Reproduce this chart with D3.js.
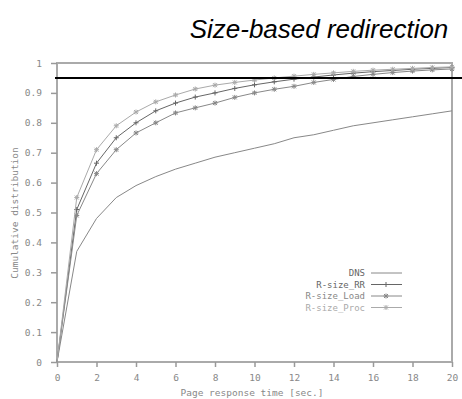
<!DOCTYPE html>
<html>
<head>
<meta charset="utf-8">
<script src="https://d3js.org/d3.v7.min.js"></script>
<style>
  body { margin: 0; background: #fff; }
  svg { display: block; }
  .tick text { font-family: "DejaVu Sans Mono", monospace; font-size: 9.5px; fill: #888; }
</style>
</head>
<body>
<div id="chart"></div>
<script>
// page response time (sec.)
const times = [0,1,2,3,4,5,6,7,8,9,10,11,12,13,14,15,16,17,18,19,20];
const dns     = [0,0.37,0.48,0.55,0.59,0.62,0.645,0.665,0.685,0.70,0.715,0.73,0.75,0.76,0.775,0.79,0.80,0.81,0.82,0.83,0.84];
const sizeRR  = [0,0.51,0.665,0.75,0.80,0.84,0.866,0.886,0.90,0.915,0.927,0.937,0.946,0.953,0.96,0.966,0.971,0.975,0.979,0.982,0.985];
const sizeLoad = [0,0.49,0.63,0.71,0.766,0.80,0.833,0.85,0.866,0.885,0.90,0.912,0.922,0.935,0.945,0.955,0.962,0.968,0.973,0.977,0.98];
const sizeProc = [0,0.55,0.71,0.79,0.836,0.87,0.893,0.913,0.926,0.935,0.943,0.95,0.956,0.962,0.967,0.972,0.976,0.979,0.982,0.985,0.987];
const target = 0.95;
const xTicks = [0,2,4,6,8,10,12,14,16,18,20];
const yTicks = [0,0.1,0.2,0.3,0.4,0.5,0.6,0.7,0.8,0.9,1];

const width = 462, height = 399;
const plotLeft = 57, plotRight = 452, plotTop = 63, plotBottom = 362;

const svg = d3.select("#chart").append("svg")
    .attr("width", width)
    .attr("height", height);

const x = d3.scaleLinear().domain([0, 20]).range([plotLeft, plotRight]);
const y = d3.scaleLinear().domain([0, 1]).range([plotBottom, plotTop]);

// title
svg.append("text")
    .attr("x", 319).attr("y", 38)
    .attr("text-anchor", "middle")
    .attr("font-family", "Liberation Sans, Arial, sans-serif")
    .attr("font-style", "italic")
    .attr("font-size", 26)
    .attr("fill", "#000")
    .text("Size-based redirection");

// frame
svg.append("rect")
    .attr("x", plotLeft).attr("y", plotTop)
    .attr("width", plotRight - plotLeft).attr("height", plotBottom - plotTop)
    .attr("fill", "none")
    .attr("stroke", "#aaa")
    .attr("stroke-width", 2);

// axes
const xAxis = d3.axisBottom(x).tickValues(xTicks).tickSize(5).tickPadding(7).tickFormat(d3.format("d"));
const yAxis = d3.axisLeft(y).tickValues(yTicks).tickSize(6).tickPadding(9).tickFormat(d => d === 0 || d === 1 ? d : d3.format(".1f")(d));

const gx = svg.append("g").attr("transform", "translate(0," + plotBottom + ")").call(xAxis);
const gy = svg.append("g").attr("transform", "translate(" + plotLeft + ",0)").call(yAxis);
[gx, gy].forEach(g => {
    g.select(".domain").remove();
    g.selectAll(".tick line").attr("stroke", "#999").attr("stroke-width", 1.5);
});

// axis titles
svg.append("text")
    .attr("x", 252).attr("y", 396)
    .attr("text-anchor", "middle")
    .attr("font-family", "DejaVu Sans Mono, monospace")
    .attr("font-size", 9.5)
    .attr("fill", "#888")
    .text("Page response time [sec.]");

svg.append("text")
    .attr("transform", "translate(18,213) rotate(-90)")
    .attr("text-anchor", "middle")
    .attr("font-family", "DejaVu Sans Mono, monospace")
    .attr("font-size", 9.5)
    .attr("fill", "#888")
    .text("Cumulative distribution");

// series
const series = [
    { name: "DNS", values: dns, color: "#888", marker: null },
    { name: "R-size_RR", values: sizeRR, color: "#666", marker: "plus" },
    { name: "R-size_Load", values: sizeLoad, color: "#888", marker: "star" },
    { name: "R-size_Proc", values: sizeProc, color: "#aaa", marker: "star" }
];

const line = d3.line()
    .x((d, i) => x(times[i]))
    .y(d => y(d));

function drawMarker(g, cx, cy, type, color) {
    const s = 2.5;
    g.append("line").attr("x1", cx - s).attr("x2", cx + s).attr("y1", cy).attr("y2", cy)
        .attr("stroke", color).attr("stroke-width", 1);
    g.append("line").attr("x1", cx).attr("x2", cx).attr("y1", cy - s).attr("y2", cy + s)
        .attr("stroke", color).attr("stroke-width", 1);
    if (type === "star") {
        g.append("line").attr("x1", cx - 2).attr("x2", cx + 2).attr("y1", cy - 2).attr("y2", cy + 2)
            .attr("stroke", color).attr("stroke-width", 1);
        g.append("line").attr("x1", cx - 2).attr("x2", cx + 2).attr("y1", cy + 2).attr("y2", cy - 2)
            .attr("stroke", color).attr("stroke-width", 1);
    }
}

series.forEach(s => {
    svg.append("path")
        .datum(s.values)
        .attr("d", line)
        .attr("fill", "none")
        .attr("stroke", s.color)
        .attr("stroke-width", 1);
    if (s.marker) {
        const g = svg.append("g");
        s.values.forEach((v, i) => {
            if (i > 0) drawMarker(g, x(times[i]), y(v), s.marker, s.color);
        });
    }
});

// target line
svg.append("line")
    .attr("x1", plotLeft - 2).attr("x2", width)
    .attr("y1", y(target)).attr("y2", y(target))
    .attr("stroke", "#000")
    .attr("stroke-width", 2);

// legend
const legend = svg.append("g");
series.forEach((s, i) => {
    const ly = 273 + i * 11.5;
    legend.append("text")
        .attr("x", 365).attr("y", ly + 3)
        .attr("text-anchor", "end")
        .attr("font-family", "DejaVu Sans Mono, monospace")
        .attr("font-size", 9)
        .attr("fill", i === 3 ? "#aaa" : (i === 2 ? "#888" : "#666"))
        .text(s.name);
    legend.append("line")
        .attr("x1", 371).attr("x2", 402)
        .attr("y1", ly).attr("y2", ly)
        .attr("stroke", s.color).attr("stroke-width", 1);
    if (s.marker) drawMarker(legend, 386, ly, s.marker, s.color);
});
</script>
</body>
</html>
